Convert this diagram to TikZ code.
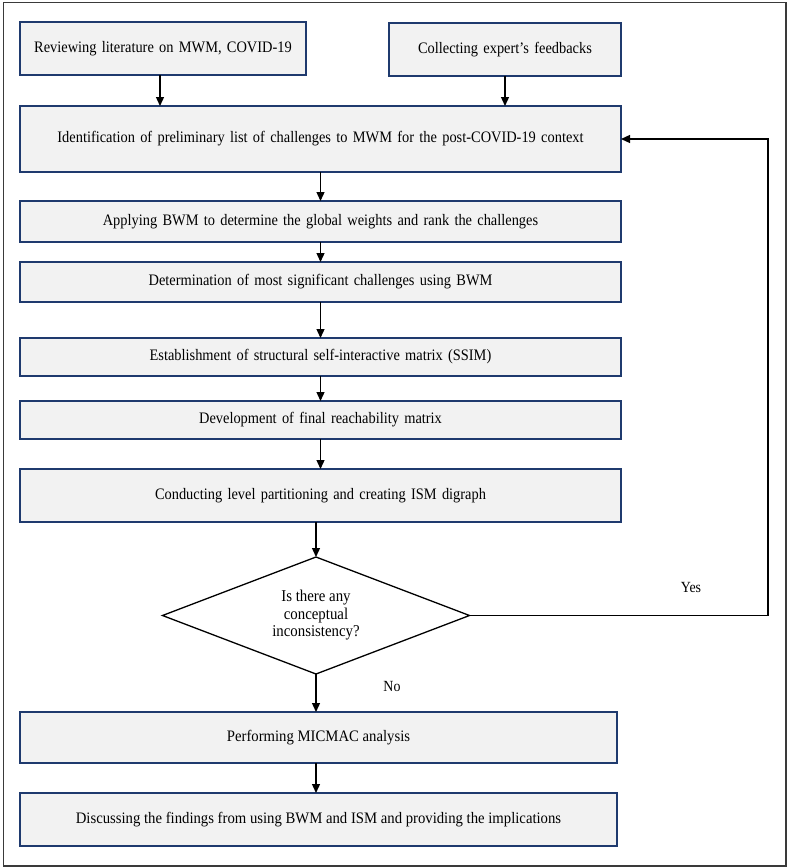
\documentclass[tikz,border=0pt]{standalone}
\usepackage{fontspec}
\setmainfont{Liberation Serif}
\newfontfamily\condfont[FakeStretch=0.9]{Liberation Serif}
\newfontfamily\condfontb[FakeStretch=0.92]{Liberation Serif}
\newcommand\widewords{\spaceskip=5.3pt plus 1pt minus 1pt\relax}
\usetikzlibrary{shapes.geometric,arrows.meta}
\definecolor{boxgray}{HTML}{F2F2F2}
\definecolor{navy}{HTML}{1F3A6E}
\definecolor{framegray}{HTML}{3A3A3A}
\tikzset{
  stepbox/.style={draw=navy,fill=boxgray,line width=1.4pt,inner sep=0pt,outer sep=0pt,
    font=\condfont\fontsize{16}{18}\selectfont\widewords,align=center},
  condbox/.style={stepbox,font=\condfontb\fontsize{16}{18}\selectfont},
  decision/.style={diamond,draw=black,line width=1.3pt,fill=white,inner sep=0pt,outer sep=0pt,
    shape aspect=2.6,minimum width=307pt,minimum height=117pt,align=center,
    font=\condfont\fontsize{16.5}{17.5}\selectfont},
  arr/.style={draw=black,line width=1.3pt,-{Triangle[length=9pt,width=8pt]}},
  lbl/.style={font=\condfont\fontsize{15.5}{17}\selectfont,inner sep=0pt},
}
\begin{document}
\begin{tikzpicture}[x=1pt,y=-1pt]
\useasboundingbox (0,0) rectangle (789,868);
\draw[framegray,line width=1.5pt] (3.5,2.5) rectangle (786,866);

\node[stepbox,minimum width=286pt,minimum height=53pt] (b1) at (163,48.5) {Reviewing literature on MWM, COVID-19};
\node[stepbox,minimum width=232pt,minimum height=53pt] (b2) at (505,49.5) {Collecting expert’s feedbacks};
\node[stepbox,minimum width=601pt,minimum height=66pt] (b3) at (320.5,139) {Identification of preliminary list of challenges to MWM for the post-COVID-19 context};
\node[stepbox,minimum width=601pt,minimum height=41pt] (b4) at (320.5,221.5) {Applying BWM to determine the global weights and rank the challenges};
\node[stepbox,minimum width=601pt,minimum height=40pt] (b5) at (320.5,282) {Determination of most significant challenges using BWM};
\node[stepbox,minimum width=601pt,minimum height=38pt] (b6) at (320.5,357) {Establishment of structural self-interactive matrix (SSIM)};
\node[stepbox,minimum width=601pt,minimum height=38pt] (b7) at (320.5,420) {Development of final reachability matrix};
\node[stepbox,minimum width=601pt,minimum height=53pt] (b8) at (320.5,495.5) {Conducting level partitioning and creating ISM digraph};
\node[decision] (dia) at (316,615.5) {Is there any\\conceptual\\inconsistency?};
\node[condbox,minimum width=597pt,minimum height=51pt] (b9) at (318.5,737.5) {Performing MICMAC analysis};
\node[condbox,minimum width=597pt,minimum height=53pt] (b10) at (318.5,819.5) {Discussing the findings from using BWM and ISM and providing the implications};

\node[lbl] (yes) at (691,587) {Yes};
\node[lbl] (no) at (392,686) {No};

\coordinate (c1) at (768,615.5);
\coordinate (c2) at (768,139);

\draw[arr] ([xshift=-3pt]b1.south) -- ([xshift=-3pt]b1.south |- b3.north);
\draw[arr] (b2.south) -- (b2.south |- b3.north);
\draw[arr] (b3.south) -- (b4.north);
\draw[arr] (b4.south) -- (b5.north);
\draw[arr] (b5.south) -- (b6.north);
\draw[arr] (b6.south) -- (b7.north);
\draw[arr] (b7.south) -- (b8.north);
\draw[arr] (dia.north |- b8.south) -- (dia.north);
\draw[arr] (dia.south) -- (dia.south |- b9.north);
\draw[arr] (b9.south -| dia.south) -- (b10.north -| dia.south);
\draw[arr] (dia.east) -- (c1) -- (c2) -- (b3.east);
\end{tikzpicture}
\end{document}
